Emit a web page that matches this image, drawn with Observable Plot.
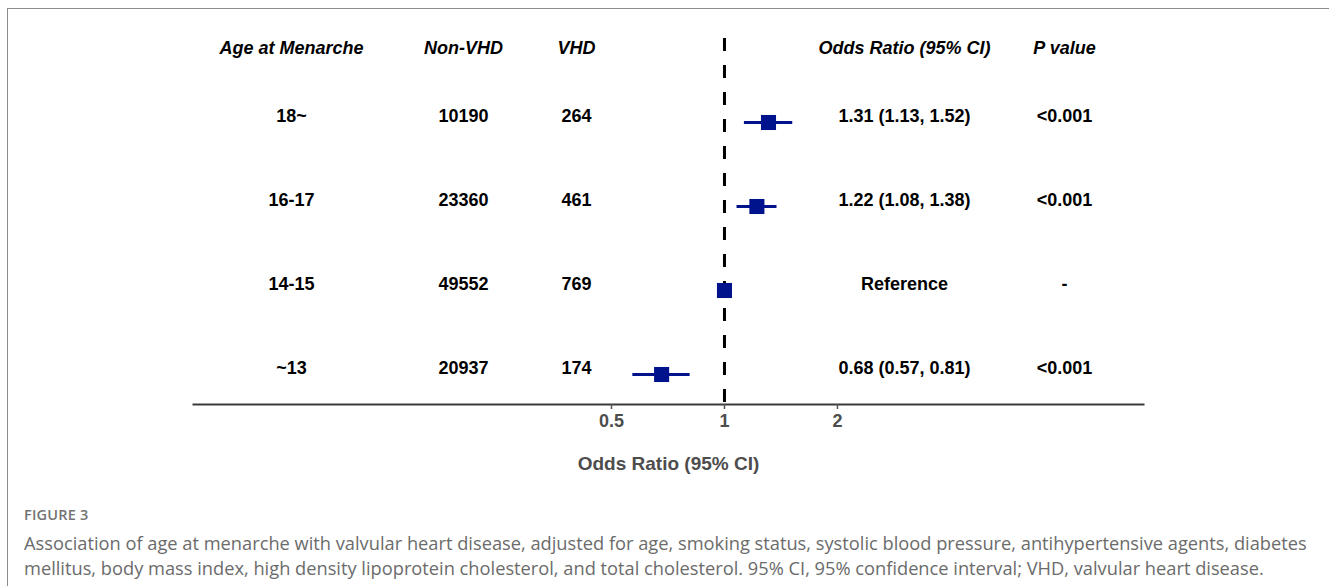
<!DOCTYPE html>
<html>
<head>
<meta charset="utf-8">
<script src="https://cdn.jsdelivr.net/npm/d3@7"></script>
<script src="https://cdn.jsdelivr.net/npm/@observablehq/plot@0.6"></script>
<style>
  html, body { margin: 0; padding: 0; background: #fff; }
  body { width: 1329px; height: 586px; overflow: hidden; position: relative; }
  #frame { position: absolute; left: 7px; top: 8px; width: 1330px; height: 600px;
           border-top: 1.5px solid #8c8c8c; border-left: 1.5px solid #8c8c8c; box-sizing: border-box; }
  #chart svg { display: block; }
  #fig { margin: 15px 0 0 24px; font-family: "Open Sans", sans-serif; font-size: 14.5px; font-weight: 600;
         color: #737373; line-height: 20px; letter-spacing: 0.2px; }
  #cap { margin: 5px 0 0 24px; font-family: "Open Sans", sans-serif; font-size: 18.25px; color: #6b6b6b;
         line-height: 25px; white-space: nowrap; }
</style>
</head>
<body>
<div id="frame"></div>
<div id="chart"></div>
<div id="fig">FIGURE 3</div>
<div id="cap">Association of age at menarche with valvular heart disease, adjusted for age, smoking status, systolic blood pressure, antihypertensive agents, diabetes<br>mellitus, body mass index, high density lipoprotein cholesterol, and total cholesterol. 95% CI, 95% confidence interval; VHD, valvular heart disease.</div>
<script>
const ages = ["18~", "16-17", "14-15", "~13"];
const nonVHD = ["10190", "23360", "49552", "20937"];
const vhd = ["264", "461", "769", "174"];
const orVal = [1.31, 1.22, 1.00, 0.68];
const ciLow = [1.13, 1.08, null, 0.57];
const ciHigh = [1.52, 1.38, null, 0.81];
const orText = ["1.31 (1.13, 1.52)", "1.22 (1.08, 1.38)", "Reference", "0.68 (0.57, 0.81)"];
const pText = ["<0.001", "<0.001", "-", "<0.001"];
const headers = ["Age at Menarche", "Non-VHD", "VHD", "Odds Ratio (95% CI)", "P value"];
const xTicks = [0.5, 1, 2];
const xTickLabels = ["0.5", "1", "2"];
const axisTitle = "Odds Ratio (95% CI)";

const rows = ages.map((a, i) => ({
  age: a, nonVHD: nonVHD[i], vhd: vhd[i], or: orVal[i], lo: ciLow[i], hi: ciHigh[i],
  orText: orText[i], p: pText[i]
}));
const ciRows = rows.filter(d => d.lo != null);
const tickData = xTicks.map((v, i) => ({v, label: xTickLabels[i]}));

const font = "'Liberation Sans', Arial, sans-serif";
const navy = "#00128c";
const colDx = [98, 270, 383, 711, 871];
const colKeys = ["age", "nonVHD", "vhd", "orText", "p"];

const W = 1329, H = 490, ML = 193, MR = 186;
const frameW = W - ML - MR;
const marks = [
  Plot.ruleX([1], {stroke: "#000", strokeWidth: 3, strokeDasharray: "13,14"}),
  Plot.frame({anchor: "bottom", stroke: "#3a3a3a", strokeWidth: 2}),
  Plot.axisX({ticks: xTicks, tickSize: 5, tickFormat: () => "", stroke: "#555", strokeWidth: 1.5, label: null}),
  Plot.text(tickData, {x: "v", frameAnchor: "bottom", lineAnchor: "middle", dy: 17, text: "label", fontSize: 18,
    fontWeight: "bold", fill: "#4d4d4d", fontFamily: font}),
  Plot.text([axisTitle], {frameAnchor: "bottom", lineAnchor: "middle", dy: 59, text: d => d, fontSize: 19,
    fontWeight: "bold", fill: "#4d4d4d", fontFamily: font}),
  Plot.ruleY(ciRows, {y: "age", x1: "lo", x2: "hi", stroke: navy, strokeWidth: 3}),
  Plot.dot(rows, {x: "or", y: "age", symbol: "square", r: 8.5, fill: navy, stroke: null}),
  ...headers.map((h, i) => Plot.text([h], {frameAnchor: "top", lineAnchor: "middle", dx: colDx[i] - frameW / 2, dy: 10,
    text: d => d, fontSize: 18, fontWeight: "bold", fontStyle: "italic", fill: "#000", fontFamily: font})),
  ...colKeys.map((k, i) => Plot.text(rows, {y: "age", frameAnchor: "left", dx: colDx[i], dy: -6,
    textAnchor: "middle", text: k, fontSize: 18, fontWeight: "bold", fill: "#000", fontFamily: font}))
];

const chart = Plot.plot({
  width: W, height: H,
  marginLeft: ML, marginRight: MR, marginTop: 38, marginBottom: H - 404,
  style: {fontFamily: font, background: "#fff"},
  x: {type: "log", domain: [0.0385, 13.07], axis: null},
  y: {type: "point", domain: ages, insetTop: 84, insetBottom: 30, padding: 0, axis: null},
  marks
});
document.getElementById("chart").appendChild(chart);
</script>
</body>
</html>
